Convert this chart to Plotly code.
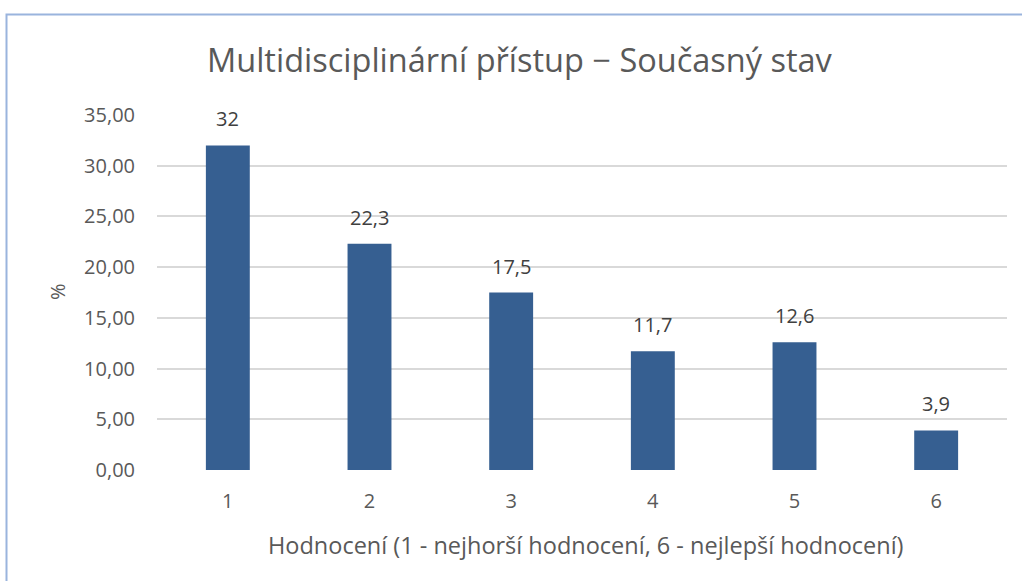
import plotly.graph_objects as go

categories = ["1", "2", "3", "4", "5", "6"]
values = [32, 22.3, 17.5, 11.7, 12.6, 3.9]
value_labels = ["32", "22,3", "17,5", "11,7", "12,6", "3,9"]
y_ticks = [0, 5, 10, 15, 20, 25, 30, 35]
y_tick_labels = ["0,00", "5,00", "10,00", "15,00", "20,00", "25,00", "30,00", "35,00"]

title_text = "Multidisciplinární přístup − Současný stav"
x_title = "Hodnocení (1 - nejhorší hodnocení, 6 - nejlepší hodnocení)"
y_title = "%"

W, H = 1022, 581
L, R, T, B = 157, 15, 115, 111
pw = W - L - R
ph = H - T - B

FONT = "Open Sans"
TXT = "#595959"

fig = go.Figure()
fig.add_trace(go.Bar(
    x=categories, y=values, marker=dict(color="#365F91", line=dict(width=0)),
    width=0.31, hoverinfo="skip",
))

for i, (v, lab) in enumerate(zip(values, value_labels)):
    fig.add_annotation(x=i, y=v, xref="x", yref="y", text=lab, showarrow=False,
                       yanchor="bottom", yshift=11,
                       font=dict(family=FONT, size=20, color="#404040"))

def px_x(p):
    return (p - L) / pw

def px_y(p):
    return (H - B - p) / ph

# title
fig.add_annotation(x=px_x(520), y=px_y(60), xref="paper", yref="paper",
                   text=title_text, showarrow=False, xanchor="center", yanchor="middle",
                   font=dict(family=FONT, size=32.5, color=TXT))
# y title
fig.add_annotation(x=px_x(57), y=px_y(292), xref="paper", yref="paper",
                   text=y_title, showarrow=False, textangle=-90, xanchor="center", yanchor="middle",
                   font=dict(family=FONT, size=20, color=TXT))
# x title
fig.add_annotation(x=px_x(586), y=px_y(545), xref="paper", yref="paper",
                   text=x_title, showarrow=False, xanchor="center", yanchor="middle",
                   font=dict(family=FONT, size=23.5, color=TXT))

# chart border (top and left visible)
fig.add_shape(type="path", xref="paper", yref="paper",
              path=f"M {px_x(1030)} {px_y(14.5)} L {px_x(6.5)} {px_y(14.5)} L {px_x(6.5)} {px_y(600)}",
              line=dict(color="#9AB4DD", width=2))

fig.update_layout(
    width=W, height=H,
    margin=dict(l=L, r=R, t=T, b=B, pad=0),
    paper_bgcolor="white", plot_bgcolor="white",
    showlegend=False,
    font=dict(family=FONT, color=TXT, size=20),
    xaxis=dict(type="category", showgrid=False, zeroline=False, showline=False,
               ticks="", tickfont=dict(family=FONT, size=20, color=TXT), ticklabelstandoff=17),
    yaxis=dict(range=[0, 35], tickvals=y_ticks, ticktext=y_tick_labels,
               showgrid=True, gridcolor="#D9D9D9", gridwidth=1.5, zeroline=False,
               showline=False, ticks="", tickfont=dict(family=FONT, size=20, color=TXT),
               ticklabelstandoff=21),
)

fig.write_html("out.html", config={"displayModeBar": False},
               post_script="document.body.style.margin='0';")
